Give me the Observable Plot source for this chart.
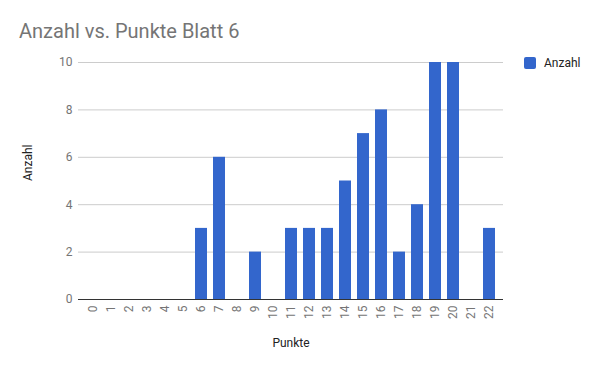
<!DOCTYPE html>
<html><head><meta charset="utf-8">
<script src="https://cdn.jsdelivr.net/npm/d3@7"></script>
<script src="https://cdn.jsdelivr.net/npm/@observablehq/plot@0.6"></script>
<style>
body{margin:0;background:#fff;font-family:Roboto,sans-serif;}
#wrap{position:relative;width:600px;height:371px;}
#title{position:absolute;left:19px;top:19px;font-size:20px;color:#757575;z-index:1;}
#legend{position:absolute;left:524px;top:56px;font-size:12px;color:#222;display:flex;align-items:center;z-index:1;}
#legend span.sw{display:inline-block;width:12px;height:12px;background:#3366cc;border-radius:2px;margin-right:8px;}
svg{position:absolute;left:0;top:0;}
</style></head><body>
<div id="wrap"><div id="title">Anzahl vs. Punkte Blatt 6</div><div id="legend"><span class="sw"></span><span>Anzahl</span></div></div>
<script>
const punkte = ["0","1","2","3","4","5","6","7","8","9","10","11","12","13","14","15","16","17","18","19","20","21","22"];
const anzahl = [0,0,0,0,0,0,3,6,0,2,0,3,3,3,5,7,8,2,4,10,10,0,3];
const yTicks = [0,2,4,6,8,10];
const data = punkte.map((p,i)=>({p, a: anzahl[i]}));
const chart = Plot.plot({
  width: 600, height: 371,
  marginLeft: 78, marginRight: 97, marginTop: 62, marginBottom: 72,
  style: {fontFamily: "Roboto, sans-serif", fontSize: "12px", color: "#444"},
  x: {domain: punkte, paddingInner: 0.35, paddingOuter: 0, insetLeft: 4, insetRight: 3},
  y: {domain: [0,10]},
  marks: [
    Plot.gridY(yTicks, {stroke: "#cccccc", strokeOpacity: 1}),
    Plot.barY(data, {x: "p", y: "a", fill: "#3366cc"}),
    Plot.ruleY([0], {stroke: "#333"}),
    Plot.axisY(yTicks, {tickSize: 0, tickPadding: 6, label: null, fill: "#757575", fontSize: 12}),
    Plot.axisX({tickSize: 0, tickRotate: -90, tickPadding: 6, label: null, fill: "#757575", fontSize: 12}),
    Plot.text(["Anzahl"], {frameAnchor: "left", dx: -50, rotate: -90, fontSize: 12, fill: "#222"}),
    Plot.text(["Punkte"], {frameAnchor: "bottom", dy: 47, fontSize: 12, fill: "#222"})
  ]
});
document.getElementById("wrap").appendChild(chart);
</script></body></html>
